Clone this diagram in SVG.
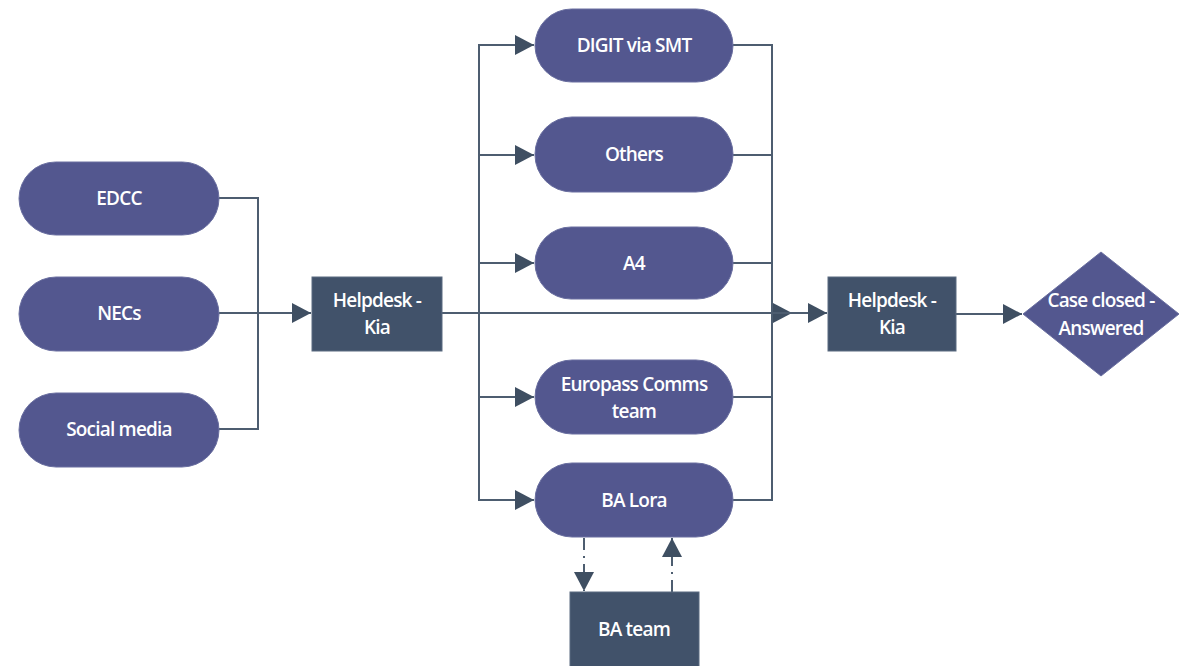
<svg xmlns="http://www.w3.org/2000/svg" width="1188" height="666" viewBox="0 0 1188 666">
<style>
.pill{fill:#53578f;stroke:#6a6fa0;stroke-width:1}
.box{fill:#41526a;stroke:#5b6b80;stroke-width:1}
.t{font-family:"Open Sans","Liberation Sans",sans-serif;font-size:19px;font-weight:600;fill:#ffffff;text-anchor:middle;letter-spacing:-0.8px}
.ln{fill:none;stroke:#4d5d70;stroke-width:2}
.dl{fill:none;stroke:#4d5d70;stroke-width:2;stroke-dasharray:12 6 2 6}
</style>
<defs>
<marker id="ah2" markerWidth="20" markerHeight="20" refX="19" refY="10" orient="auto" markerUnits="userSpaceOnUse" viewBox="0 0 20 20">
<path d="M0,0 L19,10 L0,20 Z" fill="#3f4f62"/>
</marker>
</defs>
<rect width="1188" height="666" fill="#ffffff"/>
<g id="connectors">
<path class="ln" d="M219,198 H258 V429 H219"/>
<path class="ln" d="M219,313 H311" marker-end="url(#ah2)"/>
<path class="ln" d="M442,313 H792" marker-end="url(#ah2)"/>
<path class="ln" d="M772,313 H827" marker-end="url(#ah2)"/>
<path class="ln" d="M479,313 V45 H534" marker-end="url(#ah2)"/>
<path class="ln" d="M479,155 H534" marker-end="url(#ah2)"/>
<path class="ln" d="M479,263 H534" marker-end="url(#ah2)"/>
<path class="ln" d="M479,313 V500 H534" marker-end="url(#ah2)"/>
<path class="ln" d="M479,397 H534" marker-end="url(#ah2)"/>
<path class="ln" d="M733,45 H772 V500 H733"/>
<path class="ln" d="M733,155 H772"/>
<path class="ln" d="M733,263 H772"/>
<path class="ln" d="M733,397 H772"/>
<path class="ln" d="M956,314 H1022" marker-end="url(#ah2)"/>
<path class="dl" d="M584,538 V591" marker-end="url(#ah2)"/>
<path class="dl" d="M672,592 V538" marker-end="url(#ah2)"/>
</g>
<g id="edcc"><rect class="pill" x="19" y="162" width="200" height="73" rx="36.5"/><text class="t" x="119" y="205">EDCC</text></g>
<g id="necs"><rect class="pill" x="19" y="277" width="200" height="74" rx="37"/><text class="t" x="119" y="320">NECs</text></g>
<g id="social"><rect class="pill" x="19" y="393" width="200" height="74" rx="37"/><text class="t" x="119" y="436">Social media</text></g>
<g id="helpdesk1"><rect class="box" x="312" y="277" width="130" height="74"/><text class="t" x="377" y="307">Helpdesk -</text><text class="t" x="377" y="334">Kia</text></g>
<g id="digit"><rect class="pill" x="535" y="9" width="198" height="73" rx="36.5"/><text class="t" x="634" y="52">DIGIT via SMT</text></g>
<g id="others"><rect class="pill" x="535" y="117" width="198" height="75" rx="37"/><text class="t" x="634" y="161">Others</text></g>
<g id="a4"><rect class="pill" x="535" y="227" width="198" height="72" rx="36"/><text class="t" x="634" y="270">A4</text></g>
<g id="europass"><rect class="pill" x="535" y="360" width="198" height="74" rx="37"/><text class="t" x="634" y="391">Europass Comms</text><text class="t" x="634" y="418">team</text></g>
<g id="balora"><rect class="pill" x="535" y="463" width="198" height="74" rx="37"/><text class="t" x="634" y="507">BA Lora</text></g>
<g id="bateam"><rect class="box" x="570" y="592" width="129" height="80"/><text class="t" x="634" y="636">BA team</text></g>
<g id="helpdesk2"><rect class="box" x="828" y="277" width="128" height="74"/><text class="t" x="892" y="307">Helpdesk -</text><text class="t" x="892" y="334">Kia</text></g>
<g id="closed"><polygon class="pill" points="1101,252 1179,314 1101,376 1023,314"/><text class="t" x="1101" y="307">Case closed -</text><text class="t" x="1101" y="335">Answered</text></g>
</svg>
